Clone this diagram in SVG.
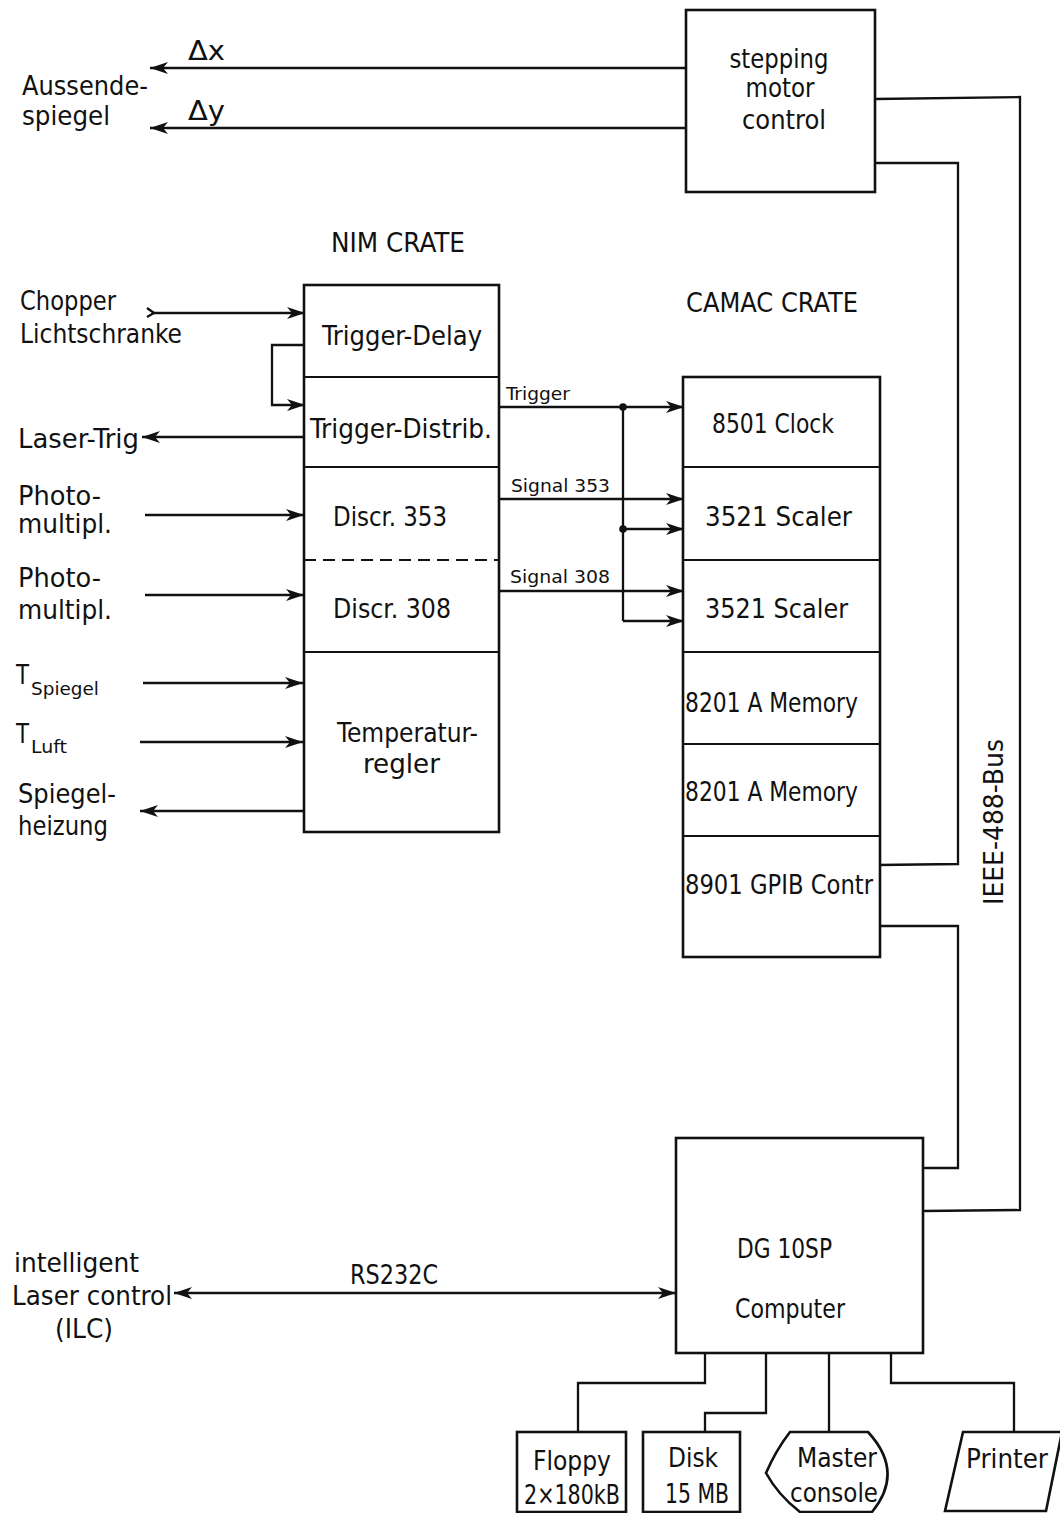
<svg xmlns="http://www.w3.org/2000/svg" width="1060" height="1513" viewBox="0 0 1060 1513">
<defs>
<style>
text{font-family:"Liberation Sans Narrow","DejaVu Sans Condensed","DejaVu Sans",sans-serif;font-stretch:condensed;fill:#111;font-size:27px}
.sm{font-size:18px}
.sub{font-size:17px}
.box{fill:#fff;stroke:#111;stroke-width:2.6}
.div{fill:none;stroke:#111;stroke-width:2.2}
.ln{fill:none;stroke:#111;stroke-width:2.3}
.arr{marker-end:url(#ah)}
</style>
<marker id="ah" viewBox="0 -7 19 14" refX="18" refY="0" markerWidth="19" markerHeight="14" orient="auto-start-reverse" markerUnits="userSpaceOnUse">
<path d="M0,-6 L18,0 L0,6 L5,0 z" fill="#111"/>
</marker>
</defs>
<rect width="1060" height="1513" fill="#fff"/>

<g id="connectors">
<line class="ln arr" x1="686" y1="68" x2="150" y2="68"/>
<line class="ln arr" x1="686" y1="128" x2="150" y2="128"/>
<polyline class="ln" points="875,99 1020,97 1020,1210 923,1211"/>
<polyline class="ln" points="875,163 958,163 958,864 878,865"/>
<polyline class="ln" points="878,926 958,926 958,1168 923,1168"/>
<line class="ln arr" x1="152" y1="313" x2="305" y2="313"/>
<path class="ln" d="M147,308 L154,313 L147,317"/>
<polyline class="ln arr" points="305,345 272,345 272,405 305,405"/>
<line class="ln arr" x1="305" y1="437" x2="142" y2="437"/>
<line class="ln arr" x1="145" y1="515" x2="304" y2="515"/>
<line class="ln arr" x1="145" y1="595" x2="304" y2="595"/>
<line class="ln arr" x1="143" y1="683" x2="303" y2="683"/>
<line class="ln arr" x1="140" y1="742" x2="303" y2="742"/>
<line class="ln arr" x1="303" y1="811" x2="140" y2="811"/>
<line class="ln arr" x1="499" y1="407" x2="684" y2="407"/>
<line class="ln arr" x1="499" y1="499" x2="684" y2="499"/>
<line class="ln arr" x1="499" y1="591" x2="684" y2="591"/>
<polyline class="ln" points="623,407 623,621"/>
<line class="ln arr" x1="623" y1="529" x2="684" y2="529"/>
<line class="ln arr" x1="623" y1="621" x2="684" y2="621"/>
<circle cx="623" cy="407" r="3.8" fill="#111"/>
<circle cx="623" cy="529" r="3.8" fill="#111"/>
<line class="ln arr" x1="174" y1="1293" x2="676" y2="1293" style="marker-start:url(#ah)"/>
<polyline class="ln" points="705,1353 705,1383 578,1383 578,1432"/>
<polyline class="ln" points="766,1353 766,1413 705,1413 705,1432"/>
<line class="ln" x1="829" y1="1353" x2="829" y2="1432"/>
<polyline class="ln" points="891,1353 891,1383 1014,1383 1014,1432"/>
</g>

<g id="stepping-motor-control">
<rect class="box" x="686" y="10" width="189" height="182"/>
<text x="779" y="68" text-anchor="middle" textLength="99" lengthAdjust="spacingAndGlyphs">stepping</text>
<text x="780" y="97" text-anchor="middle" textLength="69" lengthAdjust="spacingAndGlyphs">motor</text>
<text x="784" y="129" text-anchor="middle" textLength="84" lengthAdjust="spacingAndGlyphs">control</text>
</g>

<g id="aussendespiegel">
<text x="22" y="95" textLength="126" lengthAdjust="spacingAndGlyphs">Aussende-</text>
<text x="22" y="125" textLength="88" lengthAdjust="spacingAndGlyphs">spiegel</text>
<text x="188" y="60" textLength="37" lengthAdjust="spacingAndGlyphs">Δx</text>
<text x="188" y="120" textLength="37" lengthAdjust="spacingAndGlyphs">Δy</text>
</g>

<g id="nim-crate">
<text x="331" y="252" textLength="134" lengthAdjust="spacingAndGlyphs">NIM CRATE</text>
<rect class="box" x="304" y="285" width="195" height="547"/>
<line class="div" x1="304" y1="377" x2="499" y2="377"/>
<line class="div" x1="304" y1="467" x2="499" y2="467"/>
<line class="div" x1="304" y1="560" x2="499" y2="560" stroke-dasharray="12,7"/>
<line class="div" x1="304" y1="652" x2="499" y2="652"/>
<text x="322" y="345" textLength="160" lengthAdjust="spacingAndGlyphs">Trigger-Delay</text>
<text x="310" y="438" textLength="182" lengthAdjust="spacingAndGlyphs">Trigger-Distrib.</text>
<text x="333" y="526" textLength="114" lengthAdjust="spacingAndGlyphs">Discr. 353</text>
<text x="333" y="618" textLength="118" lengthAdjust="spacingAndGlyphs">Discr. 308</text>
<text x="337" y="742" textLength="141" lengthAdjust="spacingAndGlyphs">Temperatur-</text>
<text x="363" y="773" textLength="77" lengthAdjust="spacingAndGlyphs">regler</text>
</g>

<g id="nim-inputs">
<text x="20" y="310" textLength="96" lengthAdjust="spacingAndGlyphs">Chopper</text>
<text x="20" y="343" textLength="162" lengthAdjust="spacingAndGlyphs">Lichtschranke</text>
<text x="18" y="448" textLength="121" lengthAdjust="spacingAndGlyphs">Laser-Trig</text>
<text x="18" y="505" textLength="83" lengthAdjust="spacingAndGlyphs">Photo-</text>
<text x="18" y="533" textLength="94" lengthAdjust="spacingAndGlyphs">multipl.</text>
<text x="18" y="587" textLength="83" lengthAdjust="spacingAndGlyphs">Photo-</text>
<text x="18" y="619" textLength="94" lengthAdjust="spacingAndGlyphs">multipl.</text>
<text x="16" y="684" textLength="13" lengthAdjust="spacingAndGlyphs">T</text>
<text class="sub" x="31" y="695" textLength="68" lengthAdjust="spacingAndGlyphs">Spiegel</text>
<text x="16" y="743" textLength="13" lengthAdjust="spacingAndGlyphs">T</text>
<text class="sub" x="31" y="753" textLength="36" lengthAdjust="spacingAndGlyphs">Luft</text>
<text x="18" y="803" textLength="98" lengthAdjust="spacingAndGlyphs">Spiegel-</text>
<text x="18" y="835" textLength="90" lengthAdjust="spacingAndGlyphs">heizung</text>
</g>

<g id="signal-labels">
<text class="sm" x="506" y="400" textLength="64" lengthAdjust="spacingAndGlyphs">Trigger</text>
<text class="sm" x="511" y="492" textLength="99" lengthAdjust="spacingAndGlyphs">Signal 353</text>
<text class="sm" x="510" y="583" textLength="100" lengthAdjust="spacingAndGlyphs">Signal 308</text>
</g>

<g id="camac-crate">
<text x="686" y="312" textLength="172" lengthAdjust="spacingAndGlyphs">CAMAC  CRATE</text>
<rect class="box" x="683" y="377" width="197" height="580"/>
<line class="div" x1="683" y1="467" x2="880" y2="467"/>
<line class="div" x1="683" y1="560" x2="880" y2="560"/>
<line class="div" x1="683" y1="652" x2="880" y2="652"/>
<line class="div" x1="683" y1="744" x2="880" y2="744"/>
<line class="div" x1="683" y1="836" x2="880" y2="836"/>
<text x="712" y="433" textLength="122" lengthAdjust="spacingAndGlyphs">8501 Clock</text>
<text x="705" y="526" textLength="147" lengthAdjust="spacingAndGlyphs">3521  Scaler</text>
<text x="705" y="618" textLength="143" lengthAdjust="spacingAndGlyphs">3521  Scaler</text>
<text x="685" y="712" textLength="173" lengthAdjust="spacingAndGlyphs">8201 A Memory</text>
<text x="685" y="801" textLength="173" lengthAdjust="spacingAndGlyphs">8201 A Memory</text>
<text x="685" y="894" textLength="188" lengthAdjust="spacingAndGlyphs">8901 GPIB Contr</text>
</g>

<g id="ieee-bus-label">
<text transform="translate(1003,905) rotate(-90)" textLength="166" lengthAdjust="spacingAndGlyphs">IEEE-488-Bus</text>
</g>

<g id="computer">
<rect class="box" x="676" y="1138" width="247" height="215"/>
<text x="737" y="1258" textLength="95" lengthAdjust="spacingAndGlyphs">DG 10SP</text>
<text x="735" y="1318" textLength="110" lengthAdjust="spacingAndGlyphs">Computer</text>
</g>

<g id="ilc">
<text x="14" y="1272" textLength="125" lengthAdjust="spacingAndGlyphs">intelligent</text>
<text x="12" y="1305" textLength="160" lengthAdjust="spacingAndGlyphs">Laser control</text>
<text x="55" y="1338" textLength="58" lengthAdjust="spacingAndGlyphs">(ILC)</text>
<text x="350" y="1284" textLength="88" lengthAdjust="spacingAndGlyphs">RS232C</text>
</g>

<g id="floppy">
<rect class="box" x="517" y="1432" width="109" height="80"/>
<text x="533" y="1470" textLength="78" lengthAdjust="spacingAndGlyphs">Floppy</text>
<text x="524" y="1504" textLength="96" lengthAdjust="spacingAndGlyphs">2×180kB</text>
</g>

<g id="disk">
<rect class="box" x="643" y="1432" width="97" height="80"/>
<text x="668" y="1467" textLength="50" lengthAdjust="spacingAndGlyphs">Disk</text>
<text x="665" y="1503" textLength="64" lengthAdjust="spacingAndGlyphs">15 MB</text>
</g>

<g id="master-console">
<path class="box" d="M790,1432 L868,1432 Q905,1472 872,1512 L800,1512 Q778,1495 766,1473 Q776,1450 790,1432 Z"/>
<text x="797" y="1467" textLength="80" lengthAdjust="spacingAndGlyphs">Master</text>
<text x="790" y="1502" textLength="88" lengthAdjust="spacingAndGlyphs">console</text>
</g>

<g id="printer">
<polygon class="box" points="963,1432 1062,1432 1046,1511 945,1511"/>
<text x="966" y="1468" textLength="82" lengthAdjust="spacingAndGlyphs">Printer</text>
</g>
</svg>
